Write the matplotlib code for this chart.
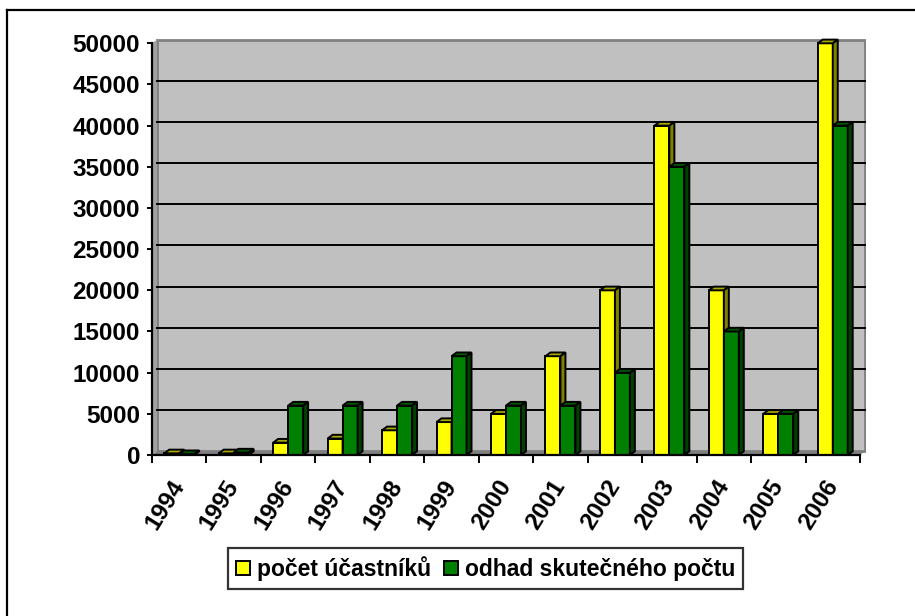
import matplotlib
matplotlib.use('Agg')
import matplotlib.pyplot as plt
from matplotlib.patches import Polygon, Patch
from matplotlib.lines import Line2D

plt.rcParams["font.family"] = "Liberation Sans"
plt.rcParams["font.weight"] = "bold"
plt.rcParams["font.size"] = 17.5

years = ['1994', '1995', '1996', '1997', '1998', '1999', '2000',
         '2001', '2002', '2003', '2004', '2005', '2006']
ucastniku = [200, 200, 1500, 2000, 3000, 4000, 5000,
             12000, 20000, 40000, 20000, 5000, 50000]
odhad = [100, 300, 6000, 6000, 6000, 12000, 6000,
         6000, 10000, 35000, 15000, 5000, 40000]
series_names = ['počet účastníků', 'odhad skutečného počtu']
yticks = list(range(0, 50001, 5000))

front = ['#FFFF00', '#008000']
tops = ['#A8A800', '#005800']
sides = ['#808000', '#004000']

W, H = 915, 616
fig = plt.figure(figsize=(W / 100, H / 100), dpi=100)

# pixel geometry of the plot area (Excel-like 3D column chart)
px_cat = 54.46          # px per category
px_val = 0.008234       # px per unit
x0_px, y0_px = 152, 455
ax_w, ax_h = 714, 417
ax = fig.add_axes([x0_px / W, (H - y0_px) / H, ax_w / W, ax_h / H])
ax.set_xlim(0, ax_w / px_cat)
ax.set_ylim(0, ax_h / px_val)
ax.patch.set_visible(False)

n = len(years)
ddx = 5 / px_cat
ddy = 3.7 / px_val
ymax = yticks[-1]
lw = 1.4

# walls and floor
ax.add_patch(Polygon([(ddx, ddy), (n + ddx, ddy), (n + ddx, ymax + ddy), (ddx, ymax + ddy)],
                     closed=True, fc='#C0C0C0', ec='#808080', lw=2, zorder=0))
ax.add_patch(Polygon([(0, 0), (ddx, ddy), (ddx, ymax + ddy), (0, ymax)],
                     closed=True, fc='#A0A0A0', ec='none', zorder=0))
ax.add_patch(Polygon([(0, 0), (n, 0), (n + ddx, ddy), (ddx, ddy)],
                     closed=True, fc='#808080', ec='none', zorder=0))
for v in yticks[1:-1]:
    ax.plot([ddx, n + ddx], [v + ddy, v + ddy], color='black', lw=lw, zorder=1)

bw = 0.275
z = 2
for i in range(n):
    c = i + 0.5
    for k, vals in enumerate([ucastniku, odhad]):
        xl = c - bw if k == 0 else c
        h = vals[i]
        ax.bar(xl, h, width=bw, align='edge', color=front[k], edgecolor='black',
               lw=lw, zorder=z)
        ax.add_patch(Polygon([(xl, h), (xl + bw, h), (xl + bw + ddx, h + ddy), (xl + ddx, h + ddy)],
                             closed=True, fc=tops[k], ec='black', lw=lw, zorder=z))
        ax.add_patch(Polygon([(xl + bw, 0), (xl + bw + ddx, ddy), (xl + bw + ddx, h + ddy), (xl + bw, h)],
                             closed=True, fc=sides[k], ec='black', lw=lw, zorder=z))
        z += 1

# axes
for s in ['top', 'right']:
    ax.spines[s].set_visible(False)
ax.spines['left'].set_bounds(0, ymax)
ax.spines['bottom'].set_bounds(0, n)
for s in ['left', 'bottom']:
    ax.spines[s].set_linewidth(1.6)
    ax.spines[s].set_zorder(50)

ax.set_yticks(yticks)
ax.set_yticklabels([str(v) for v in yticks], fontweight='bold')
ax.tick_params(axis='y', length=3.6, width=1.4, pad=5)

ax.set_xticks([i + 0.5 for i in range(n)])
ax.set_xticklabels(years, rotation=58, ha='right', va='center',
                   rotation_mode='anchor', fontweight='bold')
ax.set_xticks(range(n + 1), minor=True)
ax.tick_params(axis='x', which='major', length=0, pad=19)
ax.tick_params(axis='x', which='minor', length=5.8, width=1.4)

handles = [Patch(fc=front[0], ec='black', lw=1.4), Patch(fc=front[1], ec='black', lw=1.4)]
lg = fig.legend(handles, series_names, loc='center',
                bbox_to_anchor=(485.5 / W, 1 - 568.5 / H), ncol=2,
                frameon=True, fancybox=False, edgecolor='black',
                handlelength=0.6, handleheight=0.6, handletextpad=0.3,
                columnspacing=0.57, borderpad=0.35,
                prop={'weight': 'bold', 'size': 16.5})
lg.get_frame().set_linewidth(1.6)

# outer chart border (cut at right and bottom)
fig.add_artist(Line2D([7 / W, 7 / W], [0, 1 - 10 / H], transform=fig.transFigure, color='black', lw=1.6))
fig.add_artist(Line2D([7 / W, 1], [1 - 10 / H, 1 - 10 / H], transform=fig.transFigure, color='black', lw=1.6))

fig.savefig('out.png', dpi=100)
